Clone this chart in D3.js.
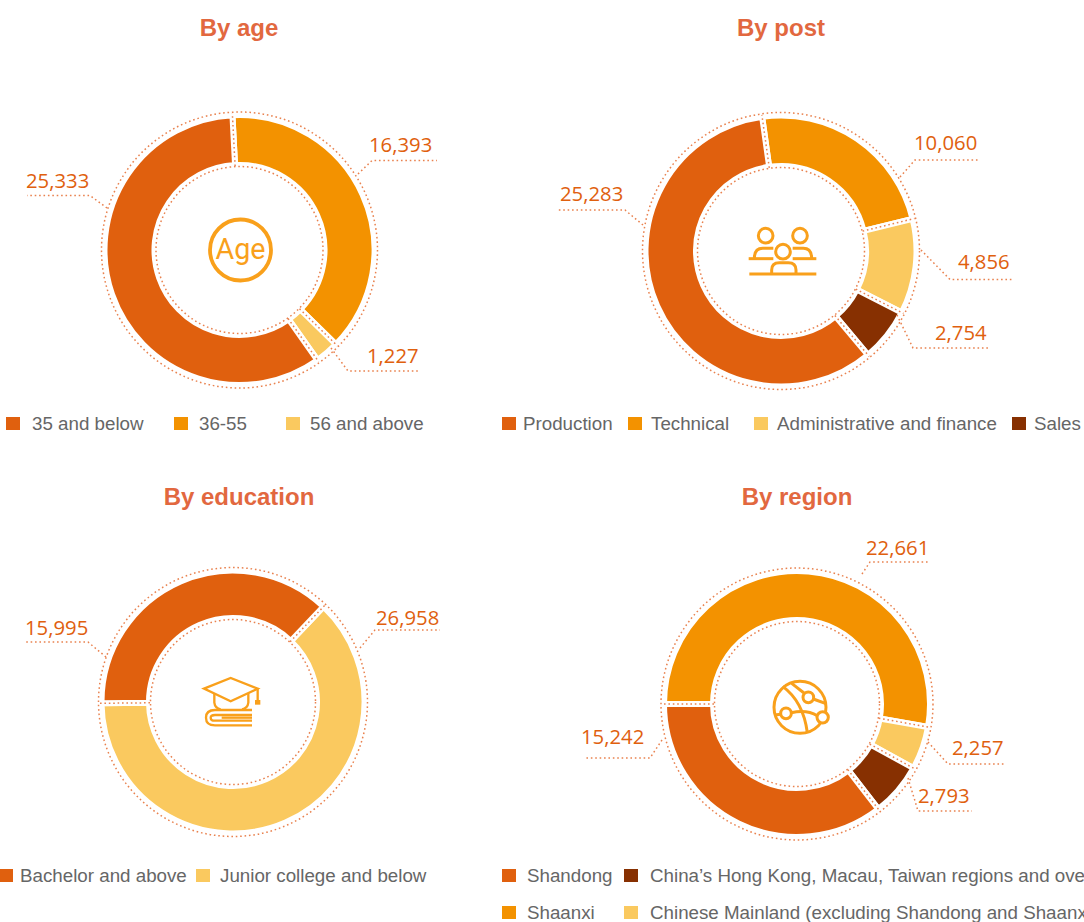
<!DOCTYPE html>
<html>
<head>
<meta charset="utf-8">
<script src="https://cdn.jsdelivr.net/npm/d3@7"></script>
<style>
  html, body { margin: 0; padding: 0; background: #fff; overflow: hidden; }
  svg { display: block; }
</style>
</head>
<body>
<div id="chart"></div>
<script>
// values, in clockwise drawing order
const ageCats = ['36-55', '56 and above', '35 and below'];
const ageVals = [16393, 1227, 25333];
const postCats = ['Technical', 'Administrative and finance', 'Sales', 'Production'];
const postVals = [10060, 4856, 2754, 25283];
const eduCats = ['Junior college and below', 'Bachelor and above'];
const eduVals = [26958, 15995];
const regionCats = ['Shaanxi', 'Chinese Mainland (excluding Shandong and Shaanxi)', "China’s Hong Kong, Macau, Taiwan regions and overseas", 'Shandong'];
const regionVals = [22661, 2257, 2793, 15242];

const DARK = '#E0600E', MID = '#F39200', LIGHT = '#FAC95F', BROWN = '#873001';
const ICON = '#F9A01B', DOT = '#E9824F';

const ageColors = [MID, LIGHT, DARK];
const postColors = [MID, LIGHT, BROWN, DARK];
const eduColors = [LIGHT, DARK];
const regionColors = [MID, LIGHT, BROWN, DARK];

const deg = Math.PI / 180;
const GAP = 6;

const panels = [
  {
    title: 'By age', tx: 239, ty: 27, cx: 239.5, cy: 250, r0: 88, r1: 132, start: -3,
    cats: ageCats, vals: ageVals, colors: ageColors,
    labels: [
      { x: 369, y: 144, leader: [[358, 174], [372, 160.5], [437, 160.5]] },
      { x: 367, y: 355, leader: [[331, 348], [348, 371], [420, 371]] },
      { x: 26, y: 180, leader: [[107, 208], [90, 195.5], [27, 195.5]] }
    ],
    legend: [
      { cat: 2, sx: 6, tx: 32, y: 424 },
      { cat: 0, sx: 174, tx: 199, y: 424 },
      { cat: 1, sx: 286, tx: 310, y: 424 }
    ]
  },
  {
    title: 'By post', tx: 781, ty: 27, cx: 781, cy: 251, r0: 88, r1: 132.5, start: -8,
    cats: postCats, vals: postVals, colors: postColors,
    labels: [
      { x: 914, y: 142, leader: [[900, 177], [915, 160], [980, 160]] },
      { x: 958, y: 261, leader: [[921, 250], [950, 279.5], [1012, 279.5]] },
      { x: 935, y: 332, leader: [[897, 315], [913, 348], [988, 348]] },
      { x: 560, y: 193, leader: [[643, 225], [625, 210], [558, 210]] }
    ],
    legend: [
      { cat: 3, sx: 502, tx: 523, y: 424 },
      { cat: 0, sx: 628, tx: 651, y: 424 },
      { cat: 1, sx: 754, tx: 777, y: 424 },
      { cat: 2, sx: 1012, tx: 1034, y: 424 }
    ]
  },
  {
    title: 'By education', tx: 239, ty: 496, cx: 233, cy: 702, r0: 87, r1: 128.5, start: 43.5,
    cats: eduCats, vals: eduVals, colors: eduColors,
    labels: [
      { x: 376, y: 617, leader: [[360, 648], [375, 630], [440, 630]] },
      { x: 25, y: 627, leader: [[106, 657], [88, 642], [25, 642]] }
    ],
    legend: [
      { cat: 1, sx: -1, tx: 20, y: 876 },
      { cat: 0, sx: 196, tx: 220, y: 876 }
    ]
  },
  {
    title: 'By region', tx: 797, ty: 496, cx: 797, cy: 704, r0: 87, r1: 130, start: -90,
    cats: regionCats, vals: regionVals, colors: regionColors,
    labels: [
      { x: 866, y: 547, leader: [[862, 574], [870, 562], [930, 562]] },
      { x: 952, y: 747, leader: [[928, 742], [948, 764], [1005, 764]] },
      { x: 918, y: 795, leader: [[908, 778], [918, 811], [972, 811]] },
      { x: 581, y: 736, leader: [[662, 740], [650, 758], [585, 758]] }
    ],
    legend: [
      { cat: 3, sx: 502, tx: 527, y: 876 },
      { cat: 2, sx: 624, tx: 650, y: 876 },
      { cat: 0, sx: 502, tx: 527, y: 913 },
      { cat: 1, sx: 624, tx: 650, y: 913 }
    ]
  }
];

const svg = d3.select('#chart').append('svg')
  .attr('width', 1084)
  .attr('height', 922)
  .attr('viewBox', '0 0 1084 922');

const fmt = d3.format(',');

function dotted(sel) {
  return sel.attr('fill', 'none')
    .attr('stroke', DOT)
    .attr('stroke-width', 1.5)
    .attr('stroke-dasharray', '1.6 2.8');
}

panels.forEach((p) => {
  svg.append('text')
    .attr('x', p.tx)
    .attr('y', p.ty)
    .attr('text-anchor', 'middle')
    .attr('dominant-baseline', 'central')
    .attr('font-family', '"Liberation Sans", Arial, sans-serif')
    .attr('font-weight', 700)
    .attr('font-size', 24)
    .attr('fill', '#E2683F')
    .text(p.title);

  const g = svg.append('g').attr('transform', `translate(${p.cx},${p.cy})`);

  const pie = d3.pie().sort(null)
    .startAngle(p.start * deg)
    .endAngle(p.start * deg + 2 * Math.PI);
  // the white stroke eats half its width from each edge
  const arc = d3.arc().innerRadius(p.r0 - GAP / 2).outerRadius(p.r1 + GAP / 2);
  const arcs = pie(p.vals);

  g.selectAll('path.slice')
    .data(arcs)
    .join('path')
    .attr('class', 'slice')
    .attr('d', arc)
    .attr('fill', (d, i) => p.colors[i])
    .attr('stroke', '#fff')
    .attr('stroke-width', GAP);

  // dotted rings either side of the donut
  [p.r0 - 4.5, p.r1 + 6].forEach((r) => {
    dotted(g.append('circle').attr('r', r));
  });

  // dotted line running down each gap between slices
  g.selectAll('line.gap')
    .data(arcs)
    .join('line')
    .attr('class', 'gap')
    .attr('x1', (d) => Math.sin(d.startAngle) * (p.r0 - 4))
    .attr('y1', (d) => -Math.cos(d.startAngle) * (p.r0 - 4))
    .attr('x2', (d) => Math.sin(d.startAngle) * (p.r1 + 5))
    .attr('y2', (d) => -Math.cos(d.startAngle) * (p.r1 + 5))
    .call(dotted);

  const line = d3.line();
  p.labels.forEach((l, i) => {
    dotted(svg.append('path').attr('d', line(l.leader)));
    svg.append('text')
      .attr('x', l.x)
      .attr('y', l.y)
      .attr('dominant-baseline', 'central')
      .attr('font-family', '"Open Sans", sans-serif')
      .attr('font-size', 20.3)
      .attr('fill', DARK)
      .text(fmt(p.vals[i]));
  });

  p.legend.forEach((it) => {
    svg.append('rect')
      .attr('x', it.sx)
      .attr('y', it.y - 7)
      .attr('width', 14)
      .attr('height', 13)
      .attr('fill', p.colors[it.cat]);
    svg.append('text')
      .attr('x', it.tx)
      .attr('y', it.y - 1)
      .attr('dominant-baseline', 'central')
      .attr('font-family', '"Liberation Sans", Arial, sans-serif')
      .attr('font-size', 18.75)
      .attr('fill', '#666')
      .text(p.cats[it.cat]);
  });
});

// centre icons, hand traced at 3x and scaled back down
function icon(x, y) {
  return svg.append('g')
    .attr('transform', `translate(${x},${y}) scale(${1 / 3})`)
    .attr('fill', 'none')
    .attr('stroke', ICON)
    .attr('stroke-width', 9);
}

// age
svg.append('circle')
  .attr('cx', 240.5).attr('cy', 250).attr('r', 30.5)
  .attr('fill', 'none').attr('stroke', ICON).attr('stroke-width', 3.8);
svg.append('text')
  .attr('x', 240.5).attr('y', 248)
  .attr('text-anchor', 'middle')
  .attr('dominant-baseline', 'central')
  .attr('font-family', 'Roboto, "Liberation Sans", sans-serif')
  .attr('font-size', 30)
  .attr('textLength', 50)
  .attr('lengthAdjust', 'spacingAndGlyphs')
  .attr('fill', ICON)
  .text('Age');

// post
const people = icon(720, 200);
people.append('circle').attr('cx', 137).attr('cy', 107).attr('r', 22);
people.append('circle').attr('cx', 240).attr('cy', 107).attr('r', 22);
people.append('circle').attr('cx', 189).attr('cy', 155).attr('r', 22);
['M160 145H128Q103 145 103 176', 'M218 145H250Q275 145 275 176', 'M86 176H160', 'M218 176H289',
  'M155 222V210Q155 188 178 188H205Q228 188 228 210V222', 'M88 222H289'].forEach((d) => {
  people.append('path').attr('d', d);
});

// education
const cap = icon(180, 660);
['M72 86L152 54L233 86L152 124Z', 'M103 100V128Q105 145 122 148', 'M205 100V128Q203 145 186 148',
  'M233 86V122', 'M216 150H105Q78 150 78 173Q78 196 105 196H216',
  'M216 165H105Q92 165 92 173Q92 182 105 182H216', 'M125 173H216'].forEach((d) => {
  cap.append('path').attr('d', d).attr('stroke-width', 7);
});
cap.append('rect').attr('x', 225).attr('y', 120).attr('width', 16).attr('height', 14)
  .attr('fill', ICON).attr('stroke', 'none');

// region
const globe = icon(750, 665);
globe.append('circle').attr('cx', 150).attr('cy', 127).attr('r', 78);
['M125 55L162 84', 'M190 102L228 116', 'M124 143Q170 133 202 152', 'M92 148L74 150',
  'M98 64Q160 110 172 203'].forEach((d) => {
  globe.append('path').attr('d', d);
});
[[175, 97, 16], [108, 145, 16], [218, 157, 17]].forEach((n) => {
  globe.append('circle').attr('cx', n[0]).attr('cy', n[1]).attr('r', n[2]).attr('fill', '#fff');
});
</script>
</body>
</html>
